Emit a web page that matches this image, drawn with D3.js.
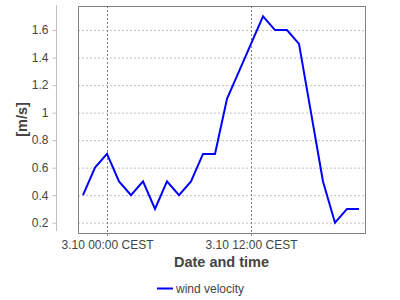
<!DOCTYPE html>
<html>
<head>
<meta charset="utf-8">
<script src="https://cdn.jsdelivr.net/npm/d3@7"></script>
<style>
	body { margin: 0; background: #fff; }
	svg { display: block; font-family: "Liberation Sans", Arial, sans-serif; }
</style>
</head>
<body>
<svg></svg>
<script>
// hourly readings, 3.9 22:00 .. 3.10 21:00 (local CEST, stored as UTC)
const hours = d3.range(24).map(i => new Date(Date.UTC(2024, 9, 2, 22 + i)));
const velocity = [0.4, 0.6, 0.7, 0.5, 0.4, 0.5, 0.3, 0.5, 0.4, 0.5, 0.7, 0.7,
	1.1, 1.3, 1.5, 1.7, 1.6, 1.6, 1.5, 1.0, 0.5, 0.2, 0.3, 0.3];
const yTicks = [0.2, 0.4, 0.6, 0.8, 1, 1.2, 1.4, 1.6];
const seriesName = "wind velocity";

const svgWidth = 400;
const svgHeight = 300;
const plot = {left: 78, right: 365, top: 6, bottom: 233};

const data = hours.map((d, i) => ({date: d, value: velocity[i]}));

const scaleX = d3.scaleTime()
	.domain([new Date(+hours[0] - 25 * 60e3), new Date(+hours[hours.length - 1] + 30 * 60e3)])
	.range([plot.left, plot.right]);

const scaleY = d3.scaleLinear()
	.domain([0.125, 1.775])
	.range([plot.bottom, plot.top]);

const chart = d3.select('svg')
	.attr('width', svgWidth)
	.attr('height', svgHeight);

const xTicks = scaleX.ticks(d3.utcHour.every(12));
const fmt = d3.utcFormat("%-d.%m %H:%M");

// grid
chart.append("g")
	.selectAll("line")
	.data(yTicks)
	.join("line")
	.attr("x1", plot.left).attr("x2", plot.right)
	.attr("y1", d => scaleY(d) + 0.5).attr("y2", d => scaleY(d) + 0.5)
	.attr("stroke", "#c0c0c0")
	.attr("stroke-dasharray", "2,2");

chart.append("g")
	.selectAll("line")
	.data(xTicks)
	.join("line")
	.attr("x1", d => Math.round(scaleX(d)) + 0.5).attr("x2", d => Math.round(scaleX(d)) + 0.5)
	.attr("y1", plot.top).attr("y2", plot.bottom + 4)
	.attr("stroke", "#808080")
	.attr("stroke-dasharray", "2,2");

// plot border
chart.append("rect")
	.attr("x", plot.left + 0.5).attr("y", plot.top + 0.5)
	.attr("width", plot.right - plot.left).attr("height", plot.bottom - plot.top)
	.attr("fill", "none")
	.attr("stroke", "#808080");

// line
chart.append("path")
	.datum(data)
	.attr("fill", "none")
	.attr("stroke", "#0000ff")
	.attr("stroke-width", 2)
	.attr("stroke-linejoin", "miter")
	.attr("d", d3.line().x(d => scaleX(d.date)).y(d => scaleY(d.value)));

// y-axis
chart.append("g")
	.attr("transform", "translate(56.5, 0)")
	.call(d3.axisLeft(scaleY).tickValues(yTicks).tickSize(4).tickPadding(4)
		.tickFormat(d => d === 1 ? "1" : d3.format(".1f")(d)))
	.call(g => g.select(".domain").attr("stroke", "#c0c0c0").attr("d", `M0,${plot.top - 1}V${plot.bottom - 2}`))
	.call(g => g.selectAll(".tick line").attr("stroke", "#c0c0c0"))
	.call(g => g.selectAll("text").attr("fill", "#444").style("font-size", "12px").style("font-family", "Liberation Sans, Arial, sans-serif"));

// x-axis labels
chart.append("g")
	.attr("transform", `translate(0, ${plot.bottom})`)
	.call(d3.axisBottom(scaleX).tickValues(xTicks).tickSize(0).tickPadding(7)
		.tickFormat(d => fmt(d) + " CEST"))
	.call(g => g.select(".domain").remove())
	.call(g => g.selectAll("text").attr("fill", "#444").style("font-size", "12px").style("font-family", "Liberation Sans, Arial, sans-serif"));

// axis titles
chart.append("text")
	.attr("transform", `translate(26.5, ${(plot.top + plot.bottom) / 2}) rotate(-90)`)
	.attr("text-anchor", "middle")
	.attr("font-weight", "bold")
	.attr("font-size", 14.5)
	.attr("fill", "#444")
	.text("[m/s]");

chart.append("text")
	.attr("x", (plot.left + plot.right) / 2)
	.attr("y", 267)
	.attr("text-anchor", "middle")
	.attr("font-weight", "bold")
	.attr("font-size", 14.5)
	.attr("fill", "#444")
	.text("Date and time");

// legend
const legend = chart.append("g").attr("transform", "translate(157, 288)");
legend.append("line")
	.attr("x1", 0).attr("x2", 16).attr("y1", 0.5).attr("y2", 0.5)
	.attr("stroke", "#0000ff").attr("stroke-width", 2);
legend.append("text")
	.attr("x", 19).attr("y", 4.5)
	.attr("font-size", 12)
	.attr("fill", "#444")
	.text(seriesName);
</script>
</body>
</html>
